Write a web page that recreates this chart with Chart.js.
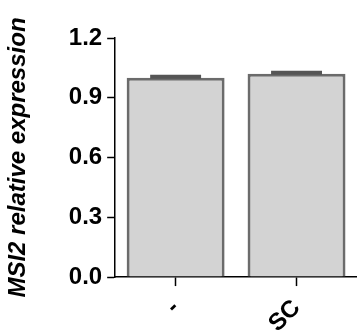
<!DOCTYPE html>
<html lang="en">
<head>
  <meta charset="UTF-8" />
  <title>MSI2 relative expression</title>
  <script src="https://cdn.jsdelivr.net/npm/chart.js"></script>
  <style>
    body {
      margin: 0;
      background: white;
    }
    .chart-container {
      width: 357px;
      height: 336px;
    }
  </style>
</head>
<body>
  <div class="chart-container">
    <canvas id="msiChart"></canvas>
  </div>

  <script>
    const categories = ['-', 'SC'];
    const expression = [1.0, 1.02];
    const errors = [0.005, 0.005];
    const yTicks = [0, 0.3, 0.6, 0.9, 1.2];

    // small error bars on top of each bar
    const errorBars = {
      id: 'errorBars',
      afterDatasetsDraw(chart) {
        const ctx = chart.ctx;
        const yScale = chart.scales.y;
        const meta = chart.getDatasetMeta(0);
        ctx.save();
        ctx.strokeStyle = '#555555';
        ctx.lineWidth = 4;
        meta.data.forEach((bar, i) => {
          const top = yScale.getPixelForValue(expression[i] + errors[i]);
          const bottom = yScale.getPixelForValue(expression[i] - errors[i]);
          const half = bar.width * 0.26;
          ctx.beginPath();
          ctx.moveTo(bar.x, top);
          ctx.lineTo(bar.x, bottom);
          ctx.moveTo(bar.x - half, top);
          ctx.lineTo(bar.x + half, top);
          ctx.stroke();
        });
        ctx.restore();
      }
    };

    new Chart(document.getElementById('msiChart'), {
      type: 'bar',
      data: {
        labels: categories,
        datasets: [{
          data: expression,
          backgroundColor: '#d3d3d3',
          borderColor: '#6b6b6b',
          borderWidth: 3,
          categoryPercentage: 1,
          barPercentage: 0.81
        }]
      },
      options: {
        responsive: true,
        maintainAspectRatio: false,
        animation: false,
        layout: {
          padding: { top: 38, right: 0, left: 4, bottom: -10 }
        },
        plugins: {
          legend: { display: false },
          tooltip: { enabled: false }
        },
        scales: {
          x: {
            grid: {
              offset: false,
              drawOnChartArea: false,
              drawTicks: true,
              tickLength: 9,
              tickWidth: 1.5,
              color: '#000'
            },
            border: { color: '#000', width: 1.5 },
            ticks: {
              color: '#000',
              minRotation: 45,
              maxRotation: 45,
              padding: 8,
              font: { family: 'Liberation Sans', size: 24, weight: 'bold' }
            }
          },
          y: {
            min: 0,
            max: 1.2,
            afterBuildTicks(axis) {
              axis.ticks = yTicks.map(v => ({ value: v }));
            },
            grid: {
              drawOnChartArea: false,
              drawTicks: true,
              tickLength: 8,
              tickWidth: 1.5,
              color: '#000'
            },
            border: { color: '#000', width: 1.5 },
            ticks: {
              color: '#000',
              padding: 5,
              callback: v => v.toFixed(1),
              font: { family: 'Liberation Sans', size: 24, weight: 'bold' }
            },
            title: {
              display: true,
              text: 'MSI2 relative expression',
              color: '#000',
              padding: { top: 0, bottom: 31 },
              font: { family: 'Liberation Sans', size: 24, weight: 'bold', style: 'italic' }
            }
          }
        }
      },
      plugins: [errorBars]
    });
  </script>
</body>
</html>
